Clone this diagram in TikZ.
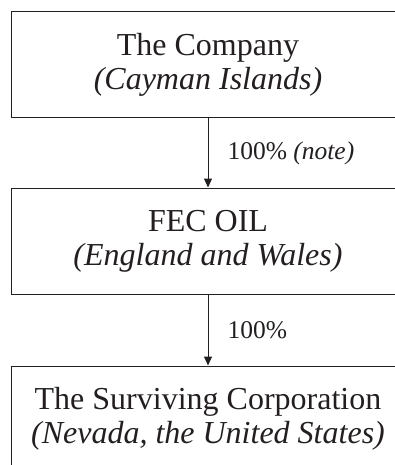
\documentclass[tikz,border=0pt]{standalone}
\usepackage{fontspec}
\setmainfont{Liberation Serif}
\usetikzlibrary{arrows.meta}
\usetikzlibrary{positioning}
\definecolor{ink}{RGB}{35,31,32}

\begin{document}
\begin{tikzpicture}[x=1pt,y=1pt,
    entity/.style={draw=ink, text=ink, line width=1pt, minimum width=394pt,
        minimum height=106pt, inner sep=0pt, align=center,
        font=\fontsize{32}{34}\selectfont},
    share/.style={text=ink, font=\fontsize{25.5}{27}\selectfont, inner sep=0pt,
        text height=17pt, text depth=0pt, anchor=west, xshift=19pt},
    own/.style={draw=ink, line width=1pt, -{Triangle[length=9pt,width=8pt]}},
    node distance=69pt]
\useasboundingbox (0,0) rectangle (395,-465);
\clip (0,0) rectangle (395,-465);
%
\node[entity] (company) at (208,-65) {The Company\\\textit{(Cayman Islands)}};
\node[entity, below=of company] (fecoil) {FEC OIL\\\textit{(England and Wales)}};
\node[entity, below=71pt of fecoil] (surviving)
    {The Surviving Corporation\\\textit{(Nevada, the United States)}};
%
\draw[own] (company) -- node[share, yshift=2pt] (own1) {100\% \textit{(note)}} (fecoil);
\draw[own] (fecoil) -- node[share] (own2) {100\%} (surviving);
\end{tikzpicture}
\end{document}
